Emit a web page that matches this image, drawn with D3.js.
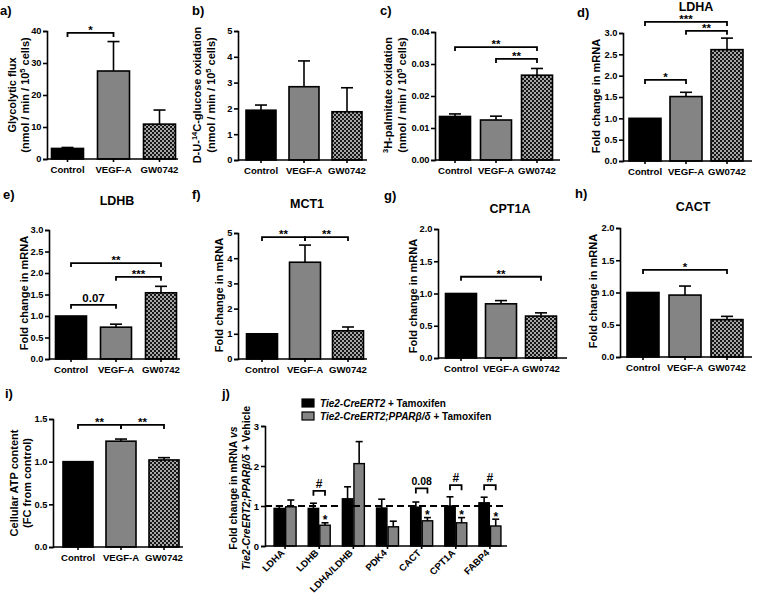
<!DOCTYPE html>
<html><head><meta charset="utf-8">
<script src="https://cdn.jsdelivr.net/npm/d3@7"></script>
<style>
body{margin:0;background:#fff}
svg{display:block}
text{font-family:"Liberation Sans",Arial,Helvetica,sans-serif;font-weight:bold;fill:#000}
</style></head><body>
<svg id="fig" width="758" height="596"></svg>
<script>
// ---------- DATA ----------
const groups = ["Control", "VEGF-A", "GW0742"];
// a) glycolytic flux
const glycolyticFlux = [3.3, 27.5, 10.9];
const glycolyticFluxErr = [0.3, 9.2, 4.4];
const glycolyticTicks = [0, 10, 20, 30, 40];
// b) glucose oxidation
const glucoseOx = [1.93, 2.84, 1.87];
const glucoseOxErr = [0.2, 1.0, 0.93];
const glucoseTicks = [0, 1, 2, 3, 4, 5];
// c) palmitate oxidation
const palmitateOx = [0.0136, 0.0125, 0.0265];
const palmitateOxErr = [0.0008, 0.0012, 0.0021];
const palmitateTicks = [0, 0.01, 0.02, 0.03, 0.04];
// d) LDHA
const ldhaFold = [1.0, 1.51, 2.61];
const ldhaErr = [0, 0.1, 0.27];
// e) LDHB
const ldhbFold = [1.0, 0.74, 1.54];
const ldhbErr = [0, 0.07, 0.15];
const foldTicks3 = [0, 0.5, 1, 1.5, 2, 2.5, 3];
// f) MCT1
const mct1Fold = [1.0, 3.84, 1.12];
const mct1Err = [0, 0.68, 0.15];
const foldTicks5 = [0, 1, 2, 3, 4, 5];
// g) CPT1A
const cpt1aFold = [1.0, 0.84, 0.65];
const cpt1aErr = [0, 0.05, 0.05];
// h) CACT
const cactFold = [1.0, 0.96, 0.58];
const cactErr = [0, 0.14, 0.05];
const foldTicks2 = [0, 0.5, 1, 1.5, 2];
// i) ATP
const atpFold = [1.0, 1.24, 1.02];
const atpErr = [0, 0.025, 0.027];
const atpTicks = [0, 0.5, 1, 1.5];
// significance brackets: [from, to, level, label]
const sigA = [["Control", "VEGF-A", 39.4, "*"]];
const sigC = [["Control", "GW0742", 0.0353, "**"], ["VEGF-A", "GW0742", 0.0316, "**"]];
const sigD = [["Control", "GW0742", 3.26, "***"], ["VEGF-A", "GW0742", 3.05, "**"], ["Control", "VEGF-A", 1.9, "*"]];
const sigE = [["Control", "GW0742", 2.23, "**"], ["VEGF-A", "GW0742", 1.91, "***"], ["Control", "VEGF-A", 1.26, "0.07"]];
const sigF = [["Control", "VEGF-A", 4.84, "**"], ["VEGF-A", "GW0742", 4.84, "**"]];
const sigG = [["Control", "GW0742", 1.26, "**"]];
const sigH = [["Control", "GW0742", 1.35, "*"]];
const sigI = [["Control", "VEGF-A", 1.43, "**"], ["VEGF-A", "GW0742", 1.43, "**"]];
// j) in vivo
const genesJ = ["LDHA", "LDHB", "LDHA/LDHB", "PDK4", "CACT", "CPT1A", "FABP4"];
const seriesJ = ["Tie2-CreERT2 + Tamoxifen", "Tie2-CreERT2;PPARβ/δ + Tamoxifen"];
const creTam = [0.94, 0.94, 1.18, 0.95, 0.97, 1.0, 1.08];
const creTamErr = [0.06, 0.13, 0.3, 0.22, 0.13, 0.23, 0.14];
const pparTam = [0.98, 0.52, 2.06, 0.48, 0.63, 0.58, 0.5];
const pparTamErr = [0.17, 0.06, 0.55, 0.14, 0.08, 0.13, 0.17];
const ticksJ = [0, 1, 2, 3];
const bracketsJ = [["LDHB", 1.38, "#"], ["CACT", 1.44, "0.08"], ["CPT1A", 1.52, "#"], ["FABP4", 1.52, "#"]];
const starsJ = ["LDHB", "CACT", "CPT1A", "FABP4"];

// ---------- DRAW ----------
const svg = d3.select("#fig");
const FONT = '"Liberation Sans",Arial,Helvetica,sans-serif';
const pat = svg.append("defs").append("pattern").attr("id", "checker")
  .attr("width", 4).attr("height", 4).attr("patternUnits", "userSpaceOnUse");
pat.append("rect").attr("width", 4).attr("height", 4).attr("fill", "#a6a6a6");
pat.append("rect").attr("width", 2).attr("height", 2).attr("fill", "#161616");
pat.append("rect").attr("x", 2).attr("y", 2).attr("width", 2).attr("height", 2).attr("fill", "#161616");
const fills = {"Control": "#000", "VEGF-A": "#848484", "GW0742": "url(#checker)"};

function rich(sel, segs, size) {
  segs.forEach(s => {
    const ts = sel.append("tspan").text(s.t);
    if (s.sup) ts.attr("baseline-shift", "super").attr("font-size", size * 0.68);
    if (s.it) ts.attr("font-style", "italic");
  });
}

function styleAxis(g, fs) {
  g.attr("font-family", FONT).attr("font-size", fs);
  g.selectAll("path.domain").attr("stroke", "#000").attr("stroke-width", 1.6);
  g.selectAll(".tick line").attr("stroke", "#000").attr("stroke-width", 1.6);
  g.selectAll(".tick text").attr("font-weight", "bold").attr("fill", "#000");
}

function panel(c) {
  const g = svg.append("g");
  const y = d3.scaleLinear().domain([0, c.ticks[c.ticks.length - 1]]).range([c.yBot, c.yTop]);
  const p = 1 - c.bw / c.step;
  const x = d3.scaleBand().domain(groups)
    .range([c.c0 - c.step / 2, c.c0 + 2.5 * c.step]).paddingInner(p).paddingOuter(p / 2);
  const cx = d => x(d) + x.bandwidth() / 2;

  // bars
  g.selectAll("rect.bar").data(groups).join("rect").attr("class", "bar")
    .attr("x", d => x(d)).attr("width", x.bandwidth())
    .attr("y", (d, i) => y(c.values[i])).attr("height", (d, i) => c.yBot - y(c.values[i]))
    .attr("fill", d => fills[d]).attr("stroke", "#000").attr("stroke-width", 1.6);
  // error bars
  groups.forEach((d, i) => {
    if (c.errs[i] <= 0) return;
    const top = y(c.values[i] + c.errs[i]);
    g.append("line").attr("x1", cx(d)).attr("x2", cx(d)).attr("y1", y(c.values[i])).attr("y2", top)
      .attr("stroke", "#000").attr("stroke-width", 1.6);
    g.append("line").attr("x1", cx(d) - 6).attr("x2", cx(d) + 6).attr("y1", top).attr("y2", top)
      .attr("stroke", "#000").attr("stroke-width", 1.6);
  });
  // axes
  const ya = g.append("g").attr("transform", `translate(${c.x0},0)`)
    .call(d3.axisLeft(y).tickValues(c.ticks).tickFormat(c.fmt).tickSize(4).tickPadding(1.5));
  styleAxis(ya, 9.3);
  const xa = g.append("g").attr("transform", `translate(0,${c.yBot})`)
    .call(d3.axisBottom(x).tickSize(3).tickPadding(4));
  styleAxis(xa, 9.6);
  xa.select("path.domain").attr("d", `M${c.x0},0H${c.xEnd}`);
  // significance
  (c.sig || []).forEach(([a, b, lvl, lab]) => {
    const yb = y(lvl), x1 = cx(a), x2 = cx(b);
    const star = lab.includes("*");
    g.append("path").attr("d", `M${x1},${yb + 4}V${yb}H${x2}V${yb + 4}`)
      .attr("fill", "none").attr("stroke", "#000").attr("stroke-width", 1.8);
    g.append("text").attr("x", (x1 + x2) / 2).attr("y", yb + (star ? 1 : -3))
      .attr("text-anchor", "middle").attr("font-size", 11.5).text(lab);
  });
  // y label
  c.ylab.forEach((segs, k) => {
    const t = g.append("text").attr("text-anchor", "middle").attr("font-size", 11)
      .attr("transform", `translate(${c.ylx[k]},${c.ylc}) rotate(-90)`);
    rich(t, segs, 11);
  });
  // panel letter and title
  g.append("text").attr("x", c.lx).attr("y", c.ly).attr("font-size", 13).text(c.id);
  if (c.title) g.append("text").attr("x", c.tx).attr("y", c.ty).attr("text-anchor", "middle")
    .attr("font-size", 12.5).text(c.title);
}

const f1 = d3.format(".1f"), fi = d3.format("d"), f2 = d3.format(".2f");
const foldLab = [[{t: "Fold change in mRNA"}]];
const nmolLab = [{t: "(nmol / min / 10"}, {t: "5", sup: true}, {t: " cells)"}];

const panels = [
  {id: "a)", lx: 0, ly: 15, values: glycolyticFlux, errs: glycolyticFluxErr, ticks: glycolyticTicks, fmt: fi,
   x0: 47, xEnd: 178, yTop: 31, yBot: 159, c0: 67.5, step: 46, bw: 32, sig: sigA,
   ylab: [[{t: "Glycolytic flux"}], nmolLab], ylx: [16, 29], ylc: 95},
  {id: "b)", lx: 192, ly: 15, values: glucoseOx, errs: glucoseOxErr, ticks: glucoseTicks, fmt: fi,
   x0: 238, xEnd: 367, yTop: 31, yBot: 160, c0: 261, step: 43, bw: 30,
   ylab: [[{t: "D-U-"}, {t: "14", sup: true}, {t: "C-glucose oxidation"}], nmolLab], ylx: [201, 215], ylc: 95},
  {id: "c)", lx: 380, ly: 15, values: palmitateOx, errs: palmitateOxErr, ticks: palmitateTicks, fmt: f2,
   x0: 435, xEnd: 560, yTop: 32, yBot: 160, c0: 455, step: 41, bw: 31, sig: sigC,
   ylab: [[{t: "3", sup: true}, {t: "H-palmitate oxidation"}], nmolLab], ylx: [392, 406], ylc: 95},
  {id: "d)", lx: 577, ly: 17, values: ldhaFold, errs: ldhaErr, ticks: foldTicks3, fmt: f1,
   x0: 623, xEnd: 752, yTop: 33, yBot: 161, c0: 645, step: 41, bw: 32, sig: sigD,
   ylab: foldLab, ylx: [600], ylc: 96, title: "LDHA", tx: 696, ty: 10.5},
  {id: "e)", lx: 3, ly: 199, values: ldhbFold, errs: ldhbErr, ticks: foldTicks3, fmt: f1,
   x0: 49, xEnd: 180, yTop: 230, yBot: 359, c0: 71, step: 45, bw: 31, sig: sigE,
   ylab: foldLab, ylx: [28], ylc: 293, title: "LDHB", tx: 117, ty: 205},
  {id: "f)", lx: 192, ly: 199, values: mct1Fold, errs: mct1Err, ticks: foldTicks5, fmt: fi,
   x0: 238, xEnd: 367, yTop: 233, yBot: 359, c0: 262, step: 43, bw: 31, sig: sigF,
   ylab: foldLab, ylx: [223], ylc: 295, title: "MCT1", tx: 307, ty: 208},
  {id: "g)", lx: 384, ly: 200, values: cpt1aFold, errs: cpt1aErr, ticks: foldTicks2, fmt: f1,
   x0: 438, xEnd: 567, yTop: 229, yBot: 358, c0: 461, step: 40, bw: 31, sig: sigG,
   ylab: foldLab, ylx: [417], ylc: 296, title: "CPT1A", tx: 510, ty: 213},
  {id: "h)", lx: 575, ly: 198, values: cactFold, errs: cactErr, ticks: foldTicks2, fmt: f1,
   x0: 620, xEnd: 752, yTop: 228, yBot: 357, c0: 643, step: 42, bw: 32, sig: sigH,
   ylab: foldLab, ylx: [597], ylc: 291, title: "CACT", tx: 693, ty: 211},
  {id: "i)", lx: 5, ly: 398, values: atpFold, errs: atpErr, ticks: atpTicks, fmt: f1,
   x0: 53, xEnd: 183, yTop: 419, yBot: 547, c0: 78, step: 43, bw: 30, sig: sigI,
   ylab: [[{t: "Cellular ATP content"}], [{t: "(FC from control)"}]], ylx: [18, 31], ylc: 483}
];
panels.forEach(panel);

// ---------- panel j ----------
(function () {
  const g = svg.append("g");
  const x0 = 265, xEnd = 507, yTop = 426, yBot = 546;
  const y = d3.scaleLinear().domain([0, 3]).range([yBot, yTop]);
  const x = d3.scaleBand().domain(genesJ).range([268, 507]);
  const xs = d3.scaleBand().domain(seriesJ).range([x.bandwidth() / 2 - 11, x.bandwidth() / 2 + 11]).paddingInner(0.1);
  const vals = [creTam, pparTam], errs = [creTamErr, pparTamErr], cols = ["#000", "#848484"];
  seriesJ.forEach((s, k) => {
    g.selectAll(null).data(genesJ).join("rect")
      .attr("x", d => x(d) + xs(s)).attr("width", xs.bandwidth())
      .attr("y", (d, i) => y(vals[k][i])).attr("height", (d, i) => yBot - y(vals[k][i]))
      .attr("fill", cols[k]).attr("stroke", "#000").attr("stroke-width", 1.4);
    genesJ.forEach((d, i) => {
      const cx = x(d) + xs(s) + xs.bandwidth() / 2, top = y(vals[k][i] + errs[k][i]);
      g.append("line").attr("x1", cx).attr("x2", cx).attr("y1", y(vals[k][i])).attr("y2", top)
        .attr("stroke", "#000").attr("stroke-width", 1.6);
      g.append("line").attr("x1", cx - 3.5).attr("x2", cx + 3.5).attr("y1", top).attr("y2", top)
        .attr("stroke", "#000").attr("stroke-width", 1.6);
    });
  });
  // reference line
  g.append("line").attr("x1", x0).attr("x2", xEnd).attr("y1", y(1)).attr("y2", y(1))
    .attr("stroke", "#000").attr("stroke-width", 2).attr("stroke-dasharray", "7,4");
  // axes
  const ya = g.append("g").attr("transform", `translate(${x0},0)`)
    .call(d3.axisLeft(y).tickValues(ticksJ).tickFormat(d3.format("d")).tickSize(4).tickPadding(2));
  styleAxis(ya, 9.5);
  const xa = g.append("g").attr("transform", `translate(0,${yBot})`)
    .call(d3.axisBottom(x).tickSize(3).tickPadding(4));
  styleAxis(xa, 9.6);
  xa.select("path.domain").attr("d", `M${x0},0H${xEnd}`);
  xa.selectAll(".tick text").attr("text-anchor", "end").attr("dy", null)
    .attr("transform", "translate(0,7.5) rotate(-45)").attr("y", 0).attr("x", 0);
  // brackets + stars
  const cxs = (d, s) => x(d) + xs(s) + xs.bandwidth() / 2;
  bracketsJ.forEach(([gene, lvl, lab]) => {
    const x1 = cxs(gene, seriesJ[0]), x2 = cxs(gene, seriesJ[1]), yb = y(lvl);
    g.append("path").attr("d", `M${x1},${yb + 5}V${yb}H${x2}V${yb + 5}`)
      .attr("fill", "none").attr("stroke", "#000").attr("stroke-width", 1.8);
    g.append("text").attr("x", (x1 + x2) / 2).attr("y", yb - 3).attr("text-anchor", "middle")
      .attr("font-size", lab === "#" ? 12 : 10.5).attr("font-weight", lab === "#" ? "normal" : "bold").text(lab);
  });
  starsJ.forEach(gene => {
    const i = genesJ.indexOf(gene);
    g.append("text").attr("x", cxs(gene, seriesJ[1])).attr("y", y(pparTam[i] + pparTamErr[i]) + 1.5)
      .attr("text-anchor", "middle").attr("font-size", 12).attr("font-weight", "normal").text("*");
  });
  // legend
  const leg = [[{t: "Tie2-CreERT2", it: true}, {t: " + Tamoxifen"}],
               [{t: "Tie2-CreERT2;PPARβ/δ", it: true}, {t: " + Tamoxifen"}]];
  leg.forEach((segs, k) => {
    g.append("rect").attr("x", 302).attr("y", 399 + k * 13).attr("width", 12).attr("height", 8)
      .attr("fill", cols[k]).attr("stroke", "#000").attr("stroke-width", 1.2);
    const t = g.append("text").attr("x", 320).attr("y", 407 + k * 13).attr("font-size", 10);
    rich(t, segs, 10);
  });
  // y label
  const yl = [[{t: "Fold change in mRNA "}, {t: "vs", it: true}],
              [{t: "Tie2-CreERT2;PPARβ/δ", it: true}, {t: " + Vehicle"}]];
  yl.forEach((segs, k) => {
    const t = g.append("text").attr("text-anchor", "middle").attr("font-size", 10.5)
      .attr("transform", `translate(${[237, 250][k]},488) rotate(-90)`);
    rich(t, segs, 10.5);
  });
  g.append("text").attr("x", 222).attr("y", 398).attr("font-size", 13).text("j)");
})();
</script>
</body></html>
